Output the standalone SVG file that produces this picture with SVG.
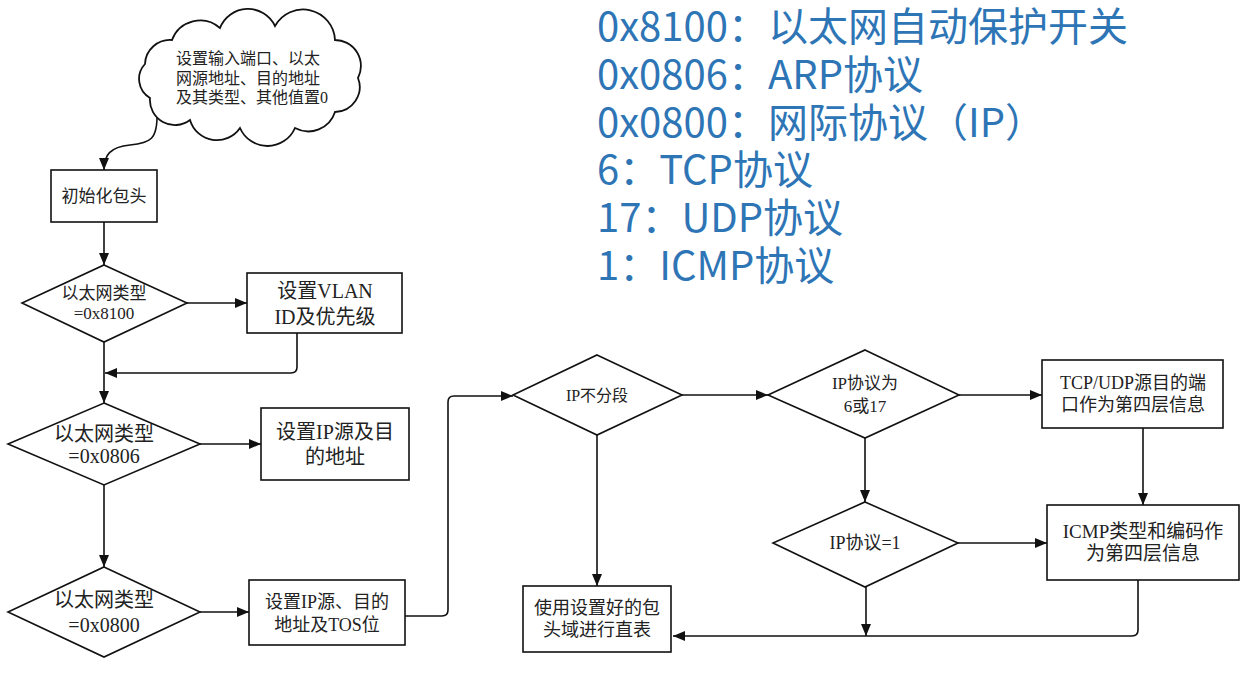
<svg xmlns="http://www.w3.org/2000/svg" width="1249" height="678" viewBox="0 0 1249 678">
<style>
.shape{fill:#fff;stroke:#111;stroke-width:1.6}
.cloud{fill:#fff;stroke:#111;stroke-width:1.8}
.line{fill:none;stroke:#111;stroke-width:1.6}
.t{font-family:"Liberation Serif","Noto Sans CJK SC",serif;fill:#222;text-anchor:middle}
.legend{font-family:"Noto Sans CJK SC","Noto Sans",sans-serif;font-size:40px;fill:#2E75B6}
</style>
<defs>
<marker id="arr" markerWidth="12" markerHeight="10" refX="12" refY="5" orient="auto" markerUnits="userSpaceOnUse">
<path d="M0,0 L12,5 L0,10 Z" fill="#111"/>
</marker>
</defs>
<rect width="1249" height="678" fill="#fff"/>

<g id="legend">
<text class="legend" x="597" y="41">0x8100：以太网自动保护开关</text>
<text class="legend" x="597" y="89">0x0806：ARP协议</text>
<text class="legend" x="597" y="137">0x0800：网际协议（IP）</text>
<text class="legend" x="597" y="184">6：TCP协议</text>
<text class="legend" x="597" y="232">17：UDP协议</text>
<text class="legend" x="597" y="280">1：ICMP协议</text>
</g>

<g id="connectors">
<path class="line" d="M157,112 C158,140 150,143 130,145 C110,147 104,155 104,170" marker-end="url(#arr)"/>
<path class="line" d="M104,222 V265" marker-end="url(#arr)"/>
<path class="line" d="M187,303 H247" marker-end="url(#arr)"/>
<path class="line" d="M104,342 V403" marker-end="url(#arr)"/>
<path class="line" d="M297,333 V367 Q297,373 291,373 H105" marker-end="url(#arr)"/>
<path class="line" d="M200,444 H261" marker-end="url(#arr)"/>
<path class="line" d="M104,485 V567" marker-end="url(#arr)"/>
<path class="line" d="M200,612 H249" marker-end="url(#arr)"/>
<path class="line" d="M405,616 H442 Q448,616 448,610 V402 Q448,396 454,396 H513" marker-end="url(#arr)"/>
<path class="line" d="M597,435 V586" marker-end="url(#arr)"/>
<path class="line" d="M682,395 H768" marker-end="url(#arr)"/>
<path class="line" d="M959,395 H1042" marker-end="url(#arr)"/>
<path class="line" d="M1143,428 V505" marker-end="url(#arr)"/>
<path class="line" d="M865,438 V502" marker-end="url(#arr)"/>
<path class="line" d="M958,543 H1047" marker-end="url(#arr)"/>
<path class="line" d="M866,587 V636" marker-end="url(#arr)"/>
<path class="line" d="M1138,580 V630 Q1138,636 1132,636 H673" marker-end="url(#arr)"/>
</g>

<g id="cloud">
<path class="cloud" d="M150,98 A22,22 0 0 1 145,64 A25,25 0 0 1 172,40 A30,30 0 0 1 220,28 A30,30 0 0 1 275,26 A32,32 0 0 1 335,40 A26,26 0 0 1 358,78 A25,25 0 0 1 335,112 A28,28 0 0 1 295,128 A30,30 0 0 1 240,128 A28,28 0 0 1 190,120 A25,25 0 0 1 150,98 Z"/>
<text class="t" style="text-anchor:start" font-size="16" x="176" y="64">设置输入端口、以太</text>
<text class="t" style="text-anchor:start" font-size="16" x="176" y="84">网源地址、目的地址</text>
<text class="t" style="text-anchor:start" font-size="16" x="176" y="103">及其类型、其他值置0</text>
</g>

<g id="init">
<rect class="shape" x="51" y="170" width="106" height="52"/>
<text class="t" font-size="17" x="104" y="202">初始化包头</text>
</g>

<g id="d8100">
<polygon class="shape" points="104,265 187,303 104,342 22,303"/>
<text class="t" font-size="17" x="104" y="299">以太网类型</text>
<text class="t" font-size="17" x="104" y="319">=0x8100</text>
</g>

<g id="vlan">
<rect class="shape" x="247" y="273" width="155" height="60"/>
<text class="t" font-size="20" x="325" y="298">设置VLAN</text>
<text class="t" font-size="20" x="325" y="324">ID及优先级</text>
</g>

<g id="d0806">
<polygon class="shape" points="104,403 200,444 104,485 8,444"/>
<text class="t" font-size="20" x="104" y="441">以太网类型</text>
<text class="t" font-size="20" x="104" y="463">=0x0806</text>
</g>

<g id="ipaddr">
<rect class="shape" x="261" y="408" width="148" height="72"/>
<text class="t" font-size="20" x="335" y="439">设置IP源及目</text>
<text class="t" font-size="20" x="335" y="464">的地址</text>
</g>

<g id="d0800">
<polygon class="shape" points="104,567 200,612 104,657 8,612"/>
<text class="t" font-size="20" x="104" y="607">以太网类型</text>
<text class="t" font-size="20" x="104" y="632">=0x0800</text>
</g>

<g id="iptos">
<rect class="shape" x="249" y="580" width="156" height="65"/>
<text class="t" font-size="18" x="327" y="608">设置IP源、目的</text>
<text class="t" font-size="18" x="327" y="631">地址及TOS位</text>
</g>

<g id="dfrag">
<polygon class="shape" points="597,355 682,395 597,435 513,395"/>
<text class="t" font-size="16" x="597" y="401">IP不分段</text>
</g>

<g id="lookup">
<rect class="shape" x="523" y="586" width="148" height="66"/>
<text class="t" font-size="18" x="597" y="614">使用设置好的包</text>
<text class="t" font-size="18" x="597" y="636">头域进行直表</text>
</g>

<g id="d617">
<polygon class="shape" points="865,350 959,395 865,438 768,395"/>
<text class="t" font-size="17" x="865" y="389">IP协议为</text>
<text class="t" font-size="17" x="865" y="412">6或17</text>
</g>

<g id="tcpudp">
<rect class="shape" x="1042" y="360" width="181" height="68"/>
<text class="t" font-size="18" x="1133" y="389">TCP/UDP源目的端</text>
<text class="t" font-size="18" x="1133" y="411">口作为第四层信息</text>
</g>

<g id="d1">
<polygon class="shape" points="865,502 958,543 865,587 773,543"/>
<text class="t" font-size="18" x="865" y="549">IP协议=1</text>
</g>

<g id="icmp">
<rect class="shape" x="1047" y="505" width="192" height="75"/>
<text class="t" font-size="19" x="1143" y="538">ICMP类型和编码作</text>
<text class="t" font-size="19" x="1143" y="560">为第四层信息</text>
</g>
</svg>
